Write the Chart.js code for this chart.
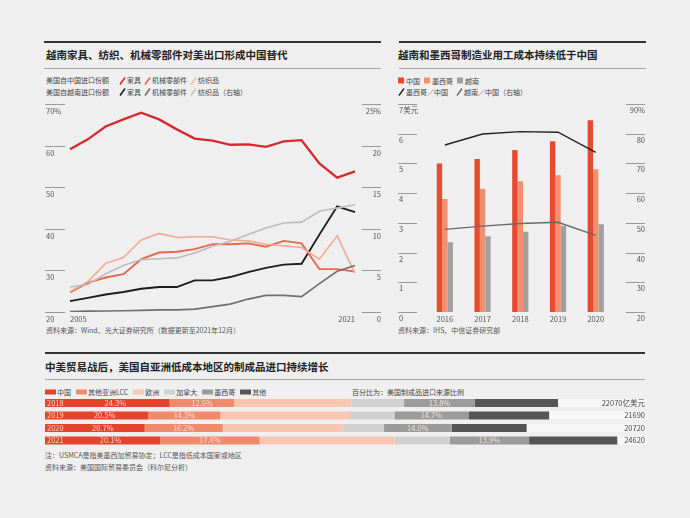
<!DOCTYPE html>
<html>
<head>
<meta charset="utf-8">
<script src="https://cdn.jsdelivr.net/npm/chart.js@4.4.0/dist/chart.umd.min.js"></script>
<style>
body { margin: 0; background: #efefef; font-family: "Noto Sans CJK SC", sans-serif; }
#page { position: relative; width: 690px; height: 518px; overflow: hidden; }
canvas { position: absolute; left: 0; top: 0; }
.t { position: absolute; white-space: nowrap; line-height: 1; transform: translateY(-50%); }
.title { font-size: 10.5px; font-weight: bold; color: #222; }
.rule { position: absolute; height: 0; }
.thick { border-top: 2px solid #333; }
.thin { border-top: 1px solid #a5a5a5; }
.lg { font-size: 7px; color: #444; display: flex; align-items: center; }
.lg svg { margin: 0 1px 0 0; }
.sq { display: inline-block; width: 6px; height: 6px; margin-right: 2px; }
.bq { display: inline-block; width: 11px; height: 5px; margin-right: 1px; }
.src { font-size: 7px; color: #555; }
</style>
</head>
<body>
<div id="page">
  <!-- panel 1 -->
  <div class="rule thick" style="left:44px;width:337px;top:41px"></div>
  <div class="t title" style="left:46px;top:55px">越南家具、纺织、机械零部件对美出口形成中国替代</div>
  <div class="rule thin" style="left:44px;width:337px;top:68px"></div>
  <div class="t lg" style="left:46px;top:80.5px">
    <span>美国自中国进口份额</span>
    <svg width="7" height="8" style="margin-left:10px"><line x1="1" y1="7.5" x2="6" y2="0.5" stroke="#d42a2e" stroke-width="1.6"/></svg><span>家具</span>
    <svg width="7" height="8" style="margin-left:3px"><line x1="1" y1="7.5" x2="6" y2="0.5" stroke="#e8674f" stroke-width="1.6"/></svg><span>机械零部件</span>
    <svg width="7" height="8" style="margin-left:3px"><line x1="1" y1="7.5" x2="6" y2="0.5" stroke="#f3c0ae" stroke-width="1.6"/></svg><span>纺织品</span>
  </div>
  <div class="t lg" style="left:46px;top:92px">
    <span>美国自越南进口份额</span>
    <svg width="7" height="8" style="margin-left:10px"><line x1="1" y1="7.5" x2="6" y2="0.5" stroke="#1c1c1c" stroke-width="1.6"/></svg><span>家具</span>
    <svg width="7" height="8" style="margin-left:3px"><line x1="1" y1="7.5" x2="6" y2="0.5" stroke="#6e6e6e" stroke-width="1.6"/></svg><span>机械零部件</span>
    <svg width="7" height="8" style="margin-left:3px"><line x1="1" y1="7.5" x2="6" y2="0.5" stroke="#c4c4c4" stroke-width="1.6"/></svg><span>纺织品（右轴）</span>
  </div>
  <div class="t src" style="left:46px;top:330px">资料来源：Wind、光大证券研究所（数据更新至2021年12月）</div>

  <!-- panel 2 -->
  <div class="rule thick" style="left:399px;width:247px;top:41px"></div>
  <div class="t title" style="left:398px;top:55px">越南和墨西哥制造业用工成本持续低于中国</div>
  <div class="rule thin" style="left:399px;width:247px;top:68px"></div>
  <div class="t lg" style="left:398px;top:80.5px">
    <span class="sq" style="background:#e8492f"></span><span>中国</span>
    <span class="sq" style="background:#f1906f;margin-left:4px"></span><span>墨西哥</span>
    <span class="sq" style="background:#a0a0a0;margin-left:4px"></span><span>越南</span>
  </div>
  <div class="t lg" style="left:398px;top:92px">
    <svg width="7" height="8"><line x1="1" y1="7.5" x2="6" y2="0.5" stroke="#222" stroke-width="1.4"/></svg><span>墨西哥／中国</span>
    <svg width="7" height="8" style="margin-left:8px"><line x1="1" y1="7.5" x2="6" y2="0.5" stroke="#6a6a6a" stroke-width="1.4"/></svg><span>越南／中国（右轴）</span>
  </div>
  <div class="t src" style="left:398px;top:330px">资料来源：IHS、中信证券研究部</div>

  <!-- panel 3 -->
  <div class="rule thick" style="left:45px;width:600px;top:352px"></div>
  <div class="t title" style="left:45px;top:367px">中美贸易战后，美国自亚洲低成本地区的制成品进口持续增长</div>
  <div class="rule thin" style="left:45px;width:600px;top:379px"></div>
  <div class="t lg" style="left:45px;top:392px">
    <span class="bq" style="background:#e5432b"></span><span>中国</span>
    <span class="bq" style="background:#ef8a6d;margin-left:5px"></span><span>其他亚洲LCC</span>
    <span class="bq" style="background:#f8c6b3;margin-left:5px"></span><span>欧洲</span>
    <span class="bq" style="background:#d0d0d0;margin-left:5px"></span><span>加拿大</span>
    <span class="bq" style="background:#9b9b9b;margin-left:5px"></span><span>墨西哥</span>
    <span class="bq" style="background:#555;margin-left:5px"></span><span>其他</span>
  </div>
  <div class="t lg" style="left:352px;top:392px">百分比为：美国制成品进口来源比例</div>
  <div class="t src" style="left:45px;top:455px">注：USMCA是指美墨西加贸易协定；LCC是指低成本国家或地区</div>
  <div class="t src" style="left:45px;top:467px">资料来源：美国国际贸易委员会（科尔尼分析）</div>

  <canvas id="c1" width="690" height="518"></canvas>
  <canvas id="c2" width="690" height="518"></canvas>
  <canvas id="c3" width="690" height="518"></canvas>
</div>

<script>
"use strict";

// ---- panel 1: import shares, 2005-2021
const years = ['2005','2006','2007','2008','2009','2010','2011','2012','2013','2014','2015','2016','2017','2018','2019','2020','2021'];
const cnFurniture = [59.1,61.5,64.6,66.3,67.9,66.3,63.9,61.7,61.2,60.2,60.3,59.7,61.0,61.3,55.7,52.3,53.8];
const cnMachinery = [24.7,27.0,28.3,29.1,32.7,34.3,34.5,35.1,36.3,36.3,36.5,35.7,37.1,36.5,30.3,30.3,29.7];
const cnTextile   = [24.9,27.3,31.7,33.1,37.3,38.9,37.9,38.1,38.1,37.3,37.1,36.3,35.9,35.5,32.7,38.3,29.3];
const vnFurniture = [1.3,1.7,2.1,2.4,2.8,3.0,3.0,3.8,3.8,4.2,4.8,5.3,5.7,5.8,9.3,12.7,12.0];
const vnMachinery = [0.05,0.1,0.12,0.15,0.2,0.25,0.25,0.35,0.65,0.95,1.55,2.0,2.0,1.85,3.4,4.9,5.6];
const vnTextile   = [3.0,3.3,4.6,5.6,6.3,6.4,6.5,7.1,7.9,8.5,9.3,10.1,10.7,10.8,12.1,12.5,12.9];
const leftTicks1  = [20,30,40,50,60,70];
const leftLabels1 = ['20','30','40','50','60','70%'];
const rightTicks1  = [0,5,10,15,20,25];
const rightLabels1 = ['0','5','10','15','20','25%'];

// ---- panel 2: labour cost
const laborYears   = ['2016','2017','2018','2019','2020'];
const wageChina    = [5.0,5.15,5.45,5.75,6.45];
const wageMexico   = [3.8,4.15,4.4,4.6,4.8];
const wageVietnam  = [2.35,2.55,2.7,2.9,2.95];
const ratioMexico  = [76.2,79.9,80.7,80.5,73.7];
const ratioVietnam = [47.8,48.9,49.8,50.2,45.8];
const leftTicks2  = [0,1,2,3,4,5,6,7];
const leftLabels2 = ['0','1','2','3','4','5','6','7美元'];
const rightTicks2  = [20,30,40,50,60,70,80,90];
const rightLabels2 = ['20','30','40','50','60','70','80','90%'];

// ---- panel 3: US manufactured imports by source (亿美元 total, % shares)
const importYears  = ['2018','2019','2020','2021'];
const importTotal  = [22070,21690,20720,24620];
const totalLabels  = ['22070亿美元','21690','20720','24620'];
const shareChina   = [24.3,20.5,20.7,20.1];
const shareAsiaLCC = [12.6,14.3,16.2,17.4];
const shareEurope  = [22.8,25.7,24.9,23.6];
const shareCanada  = [10.3,8.8,8.6,9.6];
const shareMexico  = [13.8,14.7,14.0,13.9];
const shareOther   = [16.2,16.0,15.6,15.4];

const FONT = '"Noto Sans CJK SC"';

function sideTicks(chart, scale, ticks, labels, x0, x1, align, dy) {
    const c = chart.ctx;
    c.save();
    c.strokeStyle = '#9a9a9a';
    c.lineWidth = 1;
    c.fillStyle = '#555';
    c.font = '7.5px ' + FONT;
    c.textBaseline = 'middle';
    c.textAlign = align;
    ticks.forEach(function (v, i) {
        const py = Math.round(scale.getPixelForValue(v)) + 0.5;
        c.beginPath();
        c.moveTo(x0, py);
        c.lineTo(x1, py);
        c.stroke();
        c.fillText(labels[i], align === 'left' ? x0 + 1 : x1, py + dy);
    });
    c.restore();
}

// panel 1 chart
const axes1 = {
    id: 'axes1',
    afterDraw(chart) {
        sideTicks(chart, chart.scales.y, leftTicks1, leftLabels1, 45, 65, 'left', 7);
        sideTicks(chart, chart.scales.y1, rightTicks1, rightLabels1, 362, 381, 'right', 7);
        const c = chart.ctx, x = chart.scales.x;
        c.save();
        c.fillStyle = '#555';
        c.font = '7.5px ' + FONT;
        c.textBaseline = 'middle';
        c.textAlign = 'left';
        c.fillText(years[0], x.getPixelForValue(0), 319.5);
        c.textAlign = 'right';
        c.fillText(years[years.length - 1], x.getPixelForValue(years.length - 1), 319.5);
        c.restore();
    }
};

function lineSet(data, color, axis, width) {
    return { data: data, borderColor: color, borderWidth: width, yAxisID: axis,
             pointRadius: 0, tension: 0, fill: false };
}

new Chart(document.getElementById('c1'), {
    type: 'line',
    data: {
        labels: years,
        datasets: [
            lineSet(vnTextile,   '#bdbdbd', 'y1', 1.6),
            lineSet(vnMachinery, '#6e6e6e', 'y1', 1.6),
            lineSet(cnTextile,   '#f3aa93', 'y', 1.6),
            lineSet(cnMachinery, '#e8674f', 'y', 1.9),
            lineSet(vnFurniture, '#1c1c1c', 'y1', 1.9),
            lineSet(cnFurniture, '#d42a2e', 'y', 2.3)
        ]
    },
    options: {
        responsive: false,
        animation: false,
        layout: { padding: { left: 70, right: 335, top: 104, bottom: 206 } },
        plugins: { legend: { display: false }, tooltip: { enabled: false } },
        scales: {
            x: { display: false, offset: false },
            y: { display: false, min: 20, max: 70 },
            y1: { display: false, min: 0, max: 25, position: 'right' }
        }
    },
    plugins: [axes1]
});

// panel 2 chart
const axes2 = {
    id: 'axes2',
    afterDraw(chart) {
        sideTicks(chart, chart.scales.y, leftTicks2, leftLabels2, 398, 417, 'left', 6);
        sideTicks(chart, chart.scales.y1, rightTicks2, rightLabels2, 626, 645, 'right', 6);
        const c = chart.ctx, x = chart.scales.x;
        c.save();
        c.fillStyle = '#555';
        c.font = '7.5px ' + FONT;
        c.textBaseline = 'middle';
        c.textAlign = 'center';
        laborYears.forEach(function (yr, i) {
            c.fillText(yr, x.getPixelForValue(i), 319);
        });
        c.restore();
    }
};

new Chart(document.getElementById('c2'), {
    type: 'bar',
    data: {
        labels: laborYears,
        datasets: [
            { type: 'line', data: ratioMexico, borderColor: '#222', borderWidth: 1.4, yAxisID: 'y1', pointRadius: 0, order: 0 },
            { type: 'line', data: ratioVietnam, borderColor: '#6a6a6a', borderWidth: 1.4, yAxisID: 'y1', pointRadius: 0, order: 0 },
            { data: wageChina, backgroundColor: '#e8492f', yAxisID: 'y', order: 1 },
            { data: wageMexico, backgroundColor: '#f1906f', yAxisID: 'y', order: 1 },
            { data: wageVietnam, backgroundColor: '#a0a0a0', yAxisID: 'y', order: 1 }
        ]
    },
    options: {
        responsive: false,
        animation: false,
        datasets: { bar: { categoryPercentage: 0.43, barPercentage: 1 } },
        layout: { padding: { left: 426, right: 75.4, top: 104, bottom: 206 } },
        plugins: { legend: { display: false }, tooltip: { enabled: false } },
        scales: {
            x: { display: false, offset: true },
            y: { display: false, min: 0, max: 7 },
            y1: { display: false, min: 20, max: 90, position: 'right' }
        }
    },
    plugins: [axes2]
});

// panel 3 chart: segment = total * share
function part(shares) {
    return shares.map(function (s, i) { return importTotal[i] * s / 100; });
}

const rows3 = {
    id: 'rows3',
    beforeDatasetsDraw(chart) {
        const c = chart.ctx, y = chart.scales.y, a = chart.chartArea;
        c.save();
        c.fillStyle = '#f7f7f7';
        importYears.forEach(function (yr, i) {
            const py = y.getPixelForValue(i);
            c.fillRect(a.left, py - 4, a.right - a.left, 8);
        });
        c.restore();
    },
    afterDatasetsDraw(chart) {
        const c = chart.ctx, y = chart.scales.y, a = chart.chartArea;
        c.save();
        c.font = '7.5px ' + FONT;
        c.textBaseline = 'middle';
        // year and share labels inside the bars
        c.fillStyle = 'rgba(255,235,228,0.85)';
        importYears.forEach(function (yr, i) {
            c.textAlign = 'left';
            c.fillText(yr, a.left + 2, y.getPixelForValue(i));
        });
        [0, 1, 4].forEach(function (di) {
            const meta = chart.getDatasetMeta(di);
            const shares = [shareChina, shareAsiaLCC, shareEurope, shareCanada, shareMexico][di];
            meta.data.forEach(function (bar, i) {
                const left = Math.min(bar.x, bar.base), right = Math.max(bar.x, bar.base);
                c.textAlign = 'center';
                c.fillText(shares[i].toFixed(1) + '%', (left + right) / 2 + (di === 0 ? 8 : 0), bar.y);
            });
        });
        // totals at the right
        c.fillStyle = '#444';
        c.textAlign = 'right';
        totalLabels.forEach(function (t, i) {
            c.fillText(t, a.right - 2, y.getPixelForValue(i));
        });
        c.restore();
    }
};

function stackSet(shares, color) {
    return { data: part(shares), backgroundColor: color, borderWidth: 0 };
}

new Chart(document.getElementById('c3'), {
    type: 'bar',
    data: {
        labels: importYears,
        datasets: [
            stackSet(shareChina,   '#e5432b'),
            stackSet(shareAsiaLCC, '#ef8a6d'),
            stackSet(shareEurope,  '#f8c6b3'),
            stackSet(shareCanada,  '#d0d0d0'),
            stackSet(shareMexico,  '#9b9b9b'),
            stackSet(shareOther,   '#555555')
        ]
    },
    options: {
        indexAxis: 'y',
        responsive: false,
        animation: false,
        datasets: { bar: { categoryPercentage: 1, barPercentage: 0.64 } },
        layout: { padding: { left: 45, right: 43, top: 396.75, bottom: 71.25 } },
        plugins: { legend: { display: false }, tooltip: { enabled: false } },
        scales: {
            x: { display: false, stacked: true, min: 0, max: 25900 },
            y: { display: false, stacked: true, offset: true }
        }
    },
    plugins: [rows3]
});
</script>
</body>
</html>
